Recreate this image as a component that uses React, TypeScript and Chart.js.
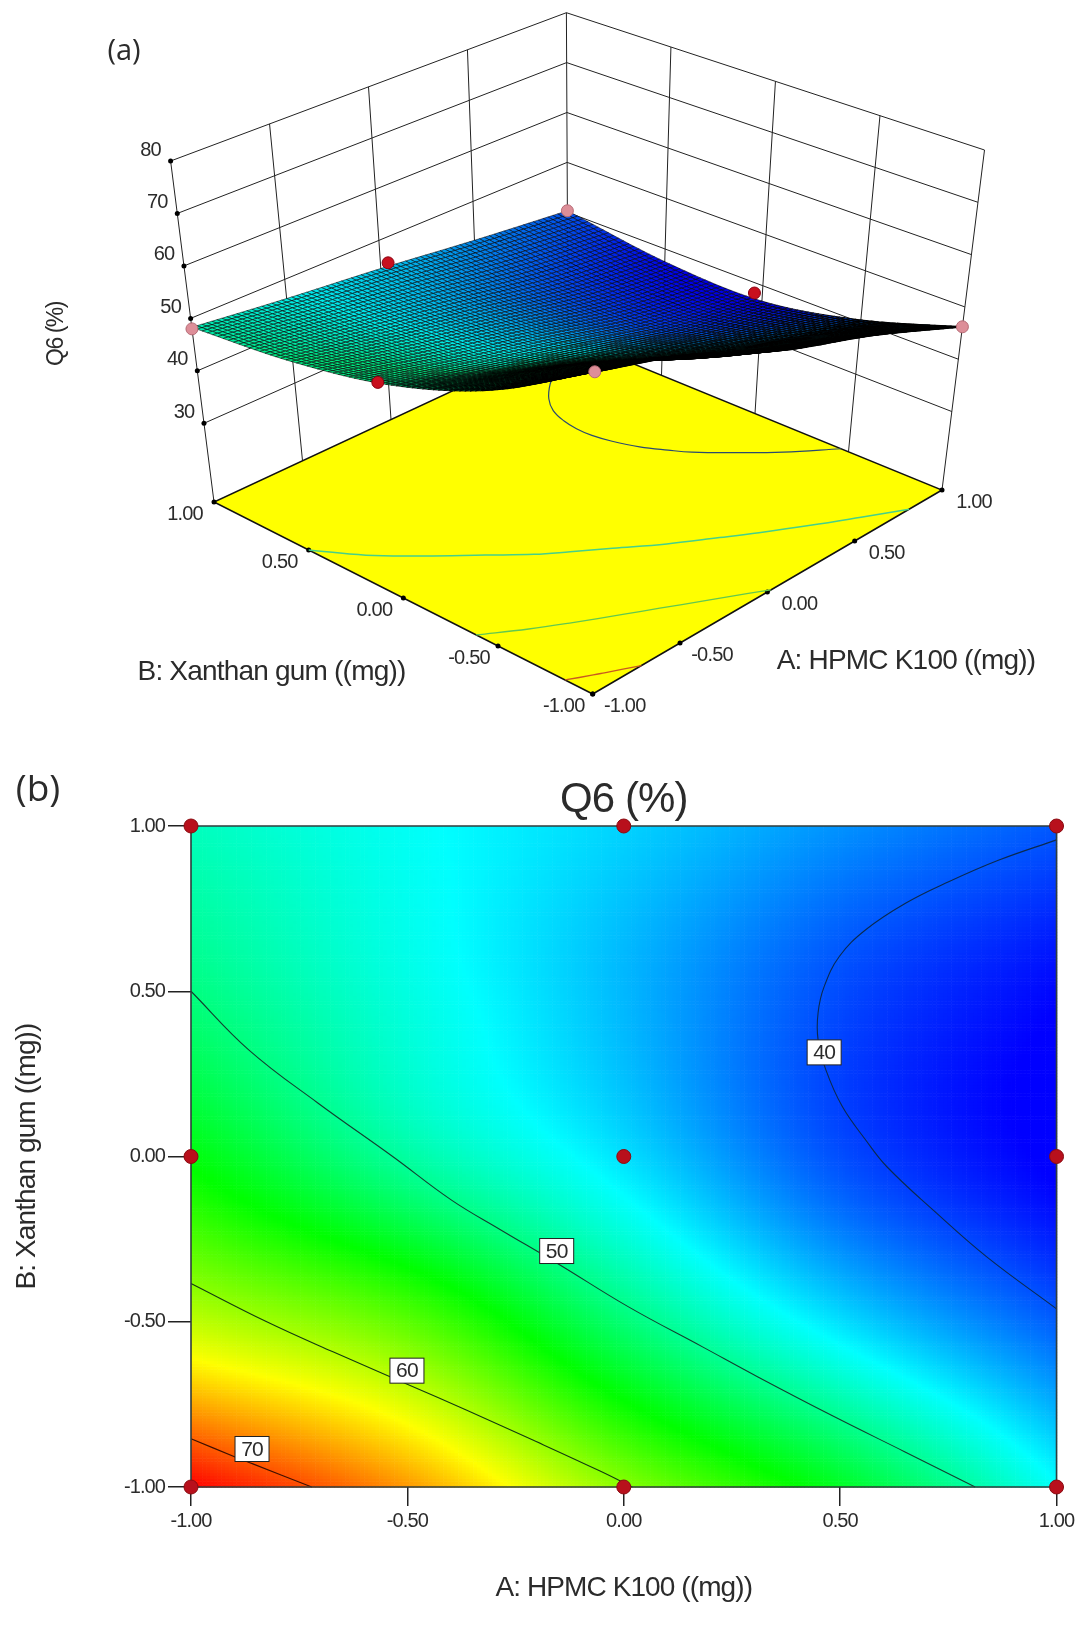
import React, { useEffect, useRef } from "react";
import { Chart, registerables } from "chart.js";

Chart.register(...registerables);

// ---------- Data ----------
const axisA = [-1, -0.5, 0, 0.5, 1];
const axisB = [-1, -0.5, 0, 0.5, 1];
// Q6 response at axisA, one row for each axisB value
const q6AtBm100 = [73.5, 68, 60, 53.8, 46.2];
const q6AtBm050 = [62, 58.3, 50.9, 45, 40.5];
const q6AtB000 = [54.6, 49.3, 45, 40, 37];
const q6AtB050 = [50.5, 47, 43.6, 39.9, 37.5];
const q6AtB100 = [48.3, 46.3, 44.5, 42.3, 40.3];
const q6Rows = [q6AtBm100, q6AtBm050, q6AtB000, q6AtB050, q6AtB100];

const contour40 = [[1, 0.958], [0.867, 0.897], [0.752, 0.832], [0.652, 0.767], [0.559, 0.686], [0.498, 0.605], [0.463, 0.514], [0.449, 0.435], [0.449, 0.353], [0.467, 0.262], [0.505, 0.151], [0.559, 0.05], [0.608, -0.031], [0.719, -0.167], [0.838, -0.303], [1, -0.461]];
const contour50 = [[-1, 0.5], [-0.866, 0.322], [-0.707, 0.162], [-0.534, 0], [-0.398, -0.132], [-0.287, -0.22], [-0.155, -0.322], [0.011, -0.455], [0.182, -0.576], [0.31, -0.667], [0.48, -0.783], [0.65, -0.894], [0.812, -1]];
const contour60 = [[-1, -0.384], [-0.825, -0.5], [-0.672, -0.591], [-0.495, -0.692], [-0.364, -0.767], [-0.21, -0.858], [-0.056, -0.951], [0.02, -1]];
const contour70 = [[-1, -0.854], [-0.898, -0.909], [-0.857, -0.93], [-0.721, -1]];
const contourLabels = [
  { text: "40", a: 0.463, b: 0.315 },
  { text: "50", a: -0.155, b: -0.286 },
  { text: "60", a: -0.501, b: -0.648 },
  { text: "70", a: -0.859, b: -0.885 },
];
const designPoints = [[-1, 1], [0, 1], [1, 1], [-1, 0], [0, 0], [1, 0], [-1, -1], [0, -1], [1, -1]];
const pinkPoints3d = [[-1, 1, 48], [1, 1, 40.3], [1, -1, 46.2], [-1, -1, 73.5]];
const redPoints3d = [[-1, 0.065, 54], [0.04, 1, 45], [1, 0.04, 38]];
const zTicks = [30, 40, 50, 60, 70, 80];
const floorTicks = [-1, -0.5, 0, 0.5, 1];
const wallDivisions = [-0.5, 0, 0.5];
const titleText = "Q6 (%)";
const axisAText = "A: HPMC K100 ((mg))";
const axisBText = "B: Xanthan gum ((mg))";

// ---------- Helpers ----------
const FONT = '"Liberation Sans", Arial, sans-serif';
const INK = "#2b2b2b";
const zFloor = 15;
const zTop = 80;
const floorBox = { ff: [592.7, 694], rf: [942, 490], lf: [214, 502], bf: [568, 337] };
const topBox = { ff: [595, 336], rf: [984.5, 150], lf: [170.6, 161], bf: [566.4, 12.7] };

function project(a: number, b: number, z: number) {
  const u = (a + 1) / 2, v = (b + 1) / 2, w = (z - zFloor) / (zTop - zFloor);
  const mix = (i: number, c: any) =>
    c.ff[i] * (1 - u) * (1 - v) + c.rf[i] * u * (1 - v) + c.lf[i] * (1 - u) * v + c.bf[i] * u * v;
  return {
    x: mix(0, floorBox) * (1 - w) + mix(0, topBox) * w,
    y: mix(1, floorBox) * (1 - w) + mix(1, topBox) * w,
  };
}

function cr(p0: number, p1: number, p2: number, p3: number, t: number) {
  return 0.5 * (2 * p1 + (p2 - p0) * t + (2 * p0 - 5 * p1 + 4 * p2 - p3) * t * t + (3 * p1 - p0 - 3 * p2 + p3) * t * t * t);
}
function rowAt(r: number, c: number) {
  const rr = Math.max(0, Math.min(4, r));
  const cc = Math.max(0, Math.min(4, c));
  let v = q6Rows[rr][cc];
  if (r < 0) v = 2 * q6Rows[0][cc] - q6Rows[1][cc];
  if (r > 4) v = 2 * q6Rows[4][cc] - q6Rows[3][cc];
  if (c < 0) v += q6Rows[rr][0] - q6Rows[rr][1];
  if (c > 4) v += q6Rows[rr][4] - q6Rows[rr][3];
  return v;
}
function q6At(a: number, b: number) {
  const fa = Math.min(3.9999, (a + 1) * 2), fb = Math.min(3.9999, (b + 1) * 2);
  const ia = Math.floor(fa), ib = Math.floor(fb);
  const ta = fa - ia, tb = fb - ib;
  const vals = [-1, 0, 1, 2].map((dr) =>
    cr(rowAt(ib + dr, ia - 1), rowAt(ib + dr, ia), rowAt(ib + dr, ia + 1), rowAt(ib + dr, ia + 2), ta)
  );
  return cr(vals[0], vals[1], vals[2], vals[3], tb);
}
const jetLevels = [37.3, 46, 55, 64.25, 73.5];
const jetStops = [[0, 0, 255], [0, 255, 255], [0, 255, 0], [255, 255, 0], [255, 0, 0]];
function jet(z: number) {
  let i = 0;
  while (i < 3 && z > jetLevels[i + 1]) i++;
  const f = Math.max(0, Math.min(1, (z - jetLevels[i]) / (jetLevels[i + 1] - jetLevels[i])));
  return [0, 1, 2].map((k) => jetStops[i][k] * (1 - f) + jetStops[i + 1][k] * f);
}
const polyline = (pts: number[][], color: string, width: number, order: number, label = "", tension = 0) => ({
  type: "scatter" as const,
  label,
  data: pts.map((p) => ({ x: p[0], y: p[1] })),
  showLine: true,
  borderColor: color,
  borderWidth: width,
  pointRadius: 0,
  tension,
  fill: false,
  order,
  clip: false as any,
});
const floorLine = (pts: number[][]) => pts.map((p) => project(p[0], p[1], zFloor)).map((q) => [q.x, q.y]);

function text(ctx: CanvasRenderingContext2D, s: string, x: number, y: number, size: number, family = FONT, spacing = "-0.8px") {
  ctx.save();
  (ctx as any).letterSpacing = spacing;
  ctx.font = `${size}px ${family}`;
  ctx.fillStyle = INK;
  ctx.textAlign = "center";
  ctx.textBaseline = "middle";
  ctx.fillText(s, x, y);
  ctx.restore();
}

// ---------- Panel (a) ----------
const surfacePlugin = {
  id: "surfaceMesh",
  afterDatasetDraw(chart: any, args: any) {
    if (chart.data.datasets[args.index].label !== "Q6 surface") return;
    const { ctx, scales } = chart;
    const N = 76;
    const pt = (i: number, j: number) => {
      const a = -1 + (2 * i) / N, b = -1 + (2 * j) / N;
      const p = project(a, b, q6At(a, b));
      return [scales.x.getPixelForValue(p.x), scales.y.getPixelForValue(p.y)];
    };
    ctx.save();
    ctx.strokeStyle = "#000";
    for (let i = N - 1; i >= 0; i--) {
      for (let j = N - 1; j >= 0; j--) {
        const a = -1 + (2 * (i + 0.5)) / N, b = -1 + (2 * (j + 0.5)) / N;
        const c = jet(Math.min(q6At(a, b), 50));
        // darker toward the low-B front edge, where the mesh folds into black
        const front = Math.max(0, Math.min(1, (0.1 - b) / 1.1));
        const shade = 0.92 - 0.55 * front;
        ctx.lineWidth = 0.55 + 0.85 * front;
        const p = [pt(i, j), pt(i + 1, j), pt(i + 1, j + 1), pt(i, j + 1)];
        ctx.fillStyle = `rgb(${c[0] * shade},${c[1] * shade},${c[2] * shade})`;
        ctx.beginPath();
        p.forEach((q, k) => (k ? ctx.lineTo(q[0], q[1]) : ctx.moveTo(q[0], q[1])));
        ctx.closePath();
        ctx.fill();
        ctx.stroke();
      }
    }
    ctx.restore();
  },
};

const panelATextPlugin = {
  id: "panelAText",
  afterDraw(chart: any) {
    const ctx = chart.ctx;
    text(ctx, "(a)", 124, 52, 29, '"Open Sans", sans-serif', "0px");
    zTicks.forEach((z) => {
      const p = project(-1, 1, z);
      text(ctx, String(z), p.x - 20, p.y - 11, 20);
    });
    floorTicks.forEach((t) => {
      const l = t.toFixed(2);
      const pb = project(-1, t, zFloor);
      text(ctx, l, pb.x - 29, pb.y + 12, 20);
      const pa = project(t, -1, zFloor);
      text(ctx, l, pa.x + 32, pa.y + 12, 20);
    });
    text(ctx, axisBText, 271.5, 672.7, 28);
    text(ctx, axisAText, 906, 661.7, 28);
    ctx.save();
    ctx.translate(57, 334);
    ctx.rotate(-Math.PI / 2);
    text(ctx, titleText, 0, 0, 23, FONT, "-1.5px");
    ctx.restore();
  },
};

function panelA(canvas: HTMLCanvasElement) {
  const lines: any[] = [];
  zTicks.concat([]).forEach((z) => {
    const l = project(-1, 1, z), b = project(1, 1, z), r = project(1, -1, z);
    lines.push(polyline([[l.x, l.y], [b.x, b.y], [r.x, r.y]], "#222", 1, 60));
  });
  wallDivisions.forEach((t) => {
    const a0 = project(t, 1, zFloor), a1 = project(t, 1, zTop);
    lines.push(polyline([[a0.x, a0.y], [a1.x, a1.y]], "#222", 1, 60));
    const b0 = project(1, t, zFloor), b1 = project(1, t, zTop);
    lines.push(polyline([[b0.x, b0.y], [b1.x, b1.y]], "#222", 1, 60));
  });
  const cornerLines: number[][][] = [[[-1, 1]], [[1, 1]], [[1, -1]]];
  cornerLines.forEach((c) => {
    const p0 = project(c[0][0], c[0][1], zFloor), p1 = project(c[0][0], c[0][1], zTop);
    lines.push(polyline([[p0.x, p0.y], [p1.x, p1.y]], "#222", 1, 60));
  });
  const floorCorners = [[-1, -1], [1, -1], [1, 1], [-1, 1], [-1, -1]];
  const floor = {
    ...polyline(floorLine(floorCorners), "#111", 1.5, 50, "floor"),
    fill: "shape",
    backgroundColor: "#ffff00",
  };
  const tickDots = {
    ...polyline(
      zTicks.map((z) => project(-1, 1, z)).map((p) => [p.x, p.y])
        .concat(floorTicks.map((t) => project(-1, t, zFloor)).map((p) => [p.x, p.y]))
        .concat(floorTicks.map((t) => project(t, -1, zFloor)).map((p) => [p.x, p.y])),
      "#000", 0, 45, "ticks"),
    showLine: false,
    pointRadius: 2.5,
    pointBackgroundColor: "#000",
    pointBorderWidth: 0,
  };
  const surface = { ...polyline([], "#000", 0, 20, "Q6 surface") };
  const pts3d = (pts: number[][], color: string, edge: string, label: string) => ({
    ...polyline(pts.map((p) => project(p[0], p[1], p[2])).map((q) => [q.x, q.y]), edge, 0, 10, label),
    showLine: false,
    pointRadius: 6,
    pointBackgroundColor: color,
    pointBorderColor: edge,
    pointBorderWidth: 1,
  });
  return new Chart(canvas, {
    type: "scatter",
    data: {
      datasets: [
        ...lines,
        floor,
        polyline(floorLine(contour40), "#2a4a70", 1.2, 40, "40", 0.4),
        polyline(floorLine(contour50), "#46d08a", 1.5, 40, "50", 0.4),
        polyline(floorLine(contour60), "#62c850", 1.3, 40, "60", 0.4),
        polyline(floorLine(contour70), "#c85a20", 1.3, 40, "70", 0.4),
        tickDots,
        surface,
        pts3d(pinkPoints3d, "#dd8e98", "#b56a75", "pink"),
        pts3d(redPoints3d, "#c8101e", "#8a0010", "red"),
      ],
    },
    options: {
      animation: false,
      responsive: false,
      devicePixelRatio: 1,
      events: [],
      layout: { padding: 0, autoPadding: false },
      plugins: { legend: { display: false }, tooltip: { enabled: false }, title: { display: false } },
      scales: {
        x: { type: "linear", min: 0, max: 1079, display: false },
        y: { type: "linear", min: 0, max: 740, reverse: true, display: false },
      },
    } as any,
    plugins: [surfacePlugin, panelATextPlugin],
  });
}

// ---------- Panel (b) ----------
const canvasBTop = 775;
const heatPlugin = {
  id: "heatField",
  beforeDraw(chart: any) {
    const { ctx, scales } = chart;
    const N = 230;
    const d = 2 / N;
    for (let i = 0; i < N; i++) {
      for (let j = 0; j < N; j++) {
        const a = -1 + d * (i + 0.5), b = -1 + d * (j + 0.5);
        const c = jet(q6At(a, b));
        const x0 = scales.x.getPixelForValue(-1 + d * i), x1 = scales.x.getPixelForValue(-1 + d * (i + 1));
        const y0 = scales.y.getPixelForValue(-1 + d * (j + 1)), y1 = scales.y.getPixelForValue(-1 + d * j);
        ctx.fillStyle = `rgb(${c[0] | 0},${c[1] | 0},${c[2] | 0})`;
        ctx.fillRect(x0, y0, x1 - x0 + 0.6, y1 - y0 + 0.6);
      }
    }
  },
};
const labelPlugin = {
  id: "contourLabels",
  beforeDraw(chart: any) {
    (chart.ctx as any).letterSpacing = "-0.9px";
  },
  afterDatasetsDraw(chart: any) {
    const { ctx, scales } = chart;
    contourLabels.forEach((l) => {
      const x = scales.x.getPixelForValue(l.a), y = scales.y.getPixelForValue(l.b);
      ctx.save();
      ctx.fillStyle = "#fff";
      ctx.strokeStyle = "#222";
      ctx.lineWidth = 1;
      ctx.fillRect(x - 17, y - 12.5, 34, 25);
      ctx.strokeRect(x - 17, y - 12.5, 34, 25);
      ctx.restore();
      text(ctx, l.text, x, y + 1, 21);
    });
    text(ctx, "(b)", 38, 790 - canvasBTop, 37, '"Open Sans", sans-serif', "0px");
  },
};

function panelB(canvas: HTMLCanvasElement) {
  const tickStyle = {
    type: "linear" as const,
    min: -1,
    max: 1,
    ticks: {
      color: INK,
      font: { family: FONT, size: 20 },
      callback: (v: any) => Number(v).toFixed(2),
    },
    border: { display: false },
  };
  return new Chart(canvas, {
    type: "scatter",
    data: {
      datasets: [
        polyline(contour40, "#0a2a50", 1.1, 30, "40", 0.4),
        polyline(contour50, "#124030", 1.1, 30, "50", 0.4),
        polyline(contour60, "#123a10", 1.1, 30, "60", 0.4),
        polyline(contour70, "#401000", 1.1, 30, "70", 0.4),
        polyline([[-1, -1], [1, -1], [1, 1], [-1, 1], [-1, -1]], "#2f3d3d", 1.6, 20, "frame"),
        {
          ...polyline(designPoints, "#000", 0, 10, "design points"),
          showLine: false,
          pointRadius: 7,
          pointBackgroundColor: "#b8101c",
          pointBorderColor: "#8a0a10",
          pointBorderWidth: 1,
        },
      ],
    },
    options: {
      animation: false,
      responsive: false,
      devicePixelRatio: 1,
      events: [],
      layout: { padding: { left: 0, right: 21.3, top: 0, bottom: 0 }, autoPadding: false },
      plugins: {
        legend: { display: false },
        tooltip: { enabled: false },
        title: {
          display: true,
          text: titleText,
          color: INK,
          fullSize: false,
          font: { family: FONT, size: 42, weight: "normal" },
          padding: { top: 0, bottom: 0.6 },
        },
      },
      scales: {
        x: {
          ...tickStyle,
          afterBuildTicks: (s: any) => {
            s.ticks = axisA.map((v) => ({ value: v }));
          },
          afterFit: (s: any) => {
            s.height = 142;
          },
          grid: { drawOnChartArea: false, drawTicks: true, tickLength: 19, color: "#222", lineWidth: 1.5 },
          title: { display: true, text: axisAText, color: INK, font: { family: FONT, size: 28 }, padding: { top: 0, bottom: 24 } },
        },
        y: {
          ...tickStyle,
          afterBuildTicks: (s: any) => {
            s.ticks = axisB.map((v) => ({ value: v }));
          },
          afterFit: (s: any) => {
            s.width = 191;
          },
          grid: { drawOnChartArea: false, drawTicks: true, tickLength: 23, color: "#222", lineWidth: 1.5 },
          title: { display: true, text: axisBText, color: INK, font: { family: FONT, size: 28 }, padding: { top: 10, bottom: 0 } },
        },
      },
    } as any,
    plugins: [heatPlugin, labelPlugin],
  });
}

export default function App() {
  const aRef = useRef<HTMLCanvasElement>(null);
  const bRef = useRef<HTMLCanvasElement>(null);
  useEffect(() => {
    const a = panelA(aRef.current!);
    const b = panelB(bRef.current!);
    return () => {
      a.destroy();
      b.destroy();
    };
  }, []);
  return (
    <div style={{ position: "absolute", left: 0, top: 0, width: 1079, height: 1629, overflow: "hidden", background: "#fff" }}>
      <canvas ref={aRef} width={1079} height={740} style={{ position: "absolute", left: 0, top: 0, width: 1079, height: 740 }} />
      <canvas ref={bRef} width={1079} height={854} style={{ position: "absolute", left: 0, top: canvasBTop, width: 1079, height: 854 }} />
    </div>
  );
}
